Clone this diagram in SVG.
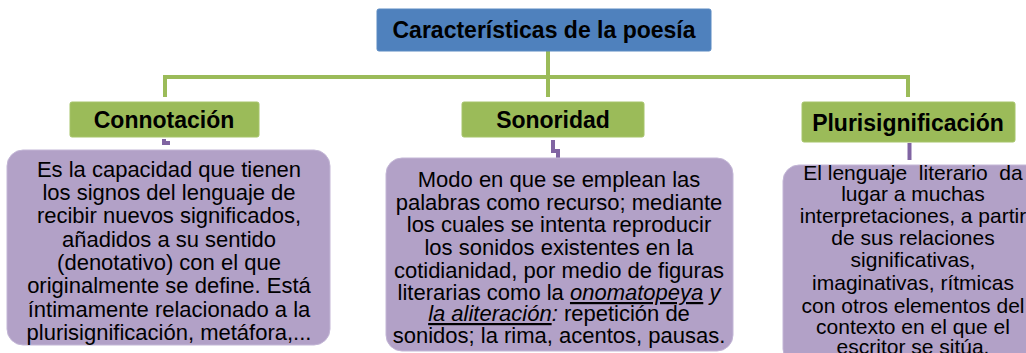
<svg xmlns="http://www.w3.org/2000/svg" width="1026" height="353" viewBox="0 0 1026 353">
<style>
.t{font-family:"Liberation Sans",Arial,sans-serif;fill:#000;text-anchor:middle}
.h{font-size:23px;font-weight:bold}
.b{font-size:22px}
.c{font-size:21px}
.g{fill:#9bbb59;stroke:#a6c46a;stroke-width:1}
.p{fill:#b2a1c7;stroke:#c3b6d6;stroke-width:1}
.gl{stroke:#9bbb59;stroke-width:4;fill:none}
.pl{stroke:#8064a2;stroke-width:4;fill:none}
</style>
<rect width="1026" height="353" fill="#fff"/>
<g id="connectors">
<path class="gl" d="M548 51 V97 M165 97 V77 H908 V97"/>
<path class="pl" d="M164 139 V143 H170"/>
<path class="pl" d="M553 140 V151 H558 V159"/>
<path class="pl" d="M909.5 143 V160"/>
</g>
<g id="root">
<rect x="377" y="9" width="334" height="42" rx="2" fill="#4f81bd" stroke="#5b8ac2"/>
<text class="t h" x="544" y="38">Características de la poesía</text>
</g>
<g id="connotacion">
<rect class="g" x="70" y="102" width="189" height="35" rx="2"/>
<text class="t h" x="164" y="128">Connotación</text>
</g>
<g id="sonoridad">
<rect class="g" x="462" y="102" width="182" height="35" rx="2"/>
<text class="t h" x="553" y="128">Sonoridad</text>
</g>
<g id="plurisignificacion">
<rect class="g" x="802" y="102" width="213" height="40" rx="2"/>
<text class="t h" x="908" y="131" font-size="24">Plurisignificación</text>
</g>
<g id="connotacion-desc">
<rect class="p" x="7" y="150" width="323" height="195" rx="16"/>
<text class="t b"><tspan x="169" y="177">Es la capacidad que tienen</tspan><tspan x="169" y="200">los signos del lenguaje de</tspan><tspan x="169" y="223">recibir nuevos significados,</tspan><tspan x="169" y="247">añadidos a su sentido</tspan><tspan x="169" y="270">(denotativo) con el que</tspan><tspan x="169" y="293">originalmente se define. Está</tspan><tspan x="169" y="317">íntimamente relacionado a la</tspan><tspan x="169" y="340">plurisignificación, metáfora,...</tspan></text>
</g>
<g id="sonoridad-desc">
<rect class="p" x="386" y="158" width="347" height="193" rx="16"/>
<text class="t b"><tspan x="559" y="187">Modo en que se emplean las</tspan><tspan x="559" y="210">palabras como recurso; mediante</tspan><tspan x="559" y="232">los cuales se intenta reproducir</tspan><tspan x="559" y="255">los sonidos existentes en la</tspan><tspan x="559" y="278">cotidianidad, por medio de figuras</tspan><tspan x="559" y="300">literarias como la <tspan font-style="italic" text-decoration="underline">onomatopeya</tspan> <tspan font-style="italic">y</tspan></tspan><tspan x="559" y="321"><tspan font-style="italic" text-decoration="underline">la aliteración</tspan><tspan font-style="italic">:</tspan> repetición de</tspan><tspan x="559" y="343">sonidos; la rima, acentos, pausas.</tspan></text>
</g>
<g id="plurisignificacion-desc">
<rect class="p" x="783" y="165" width="260" height="200" rx="16"/>
<text class="t c" xml:space="preserve"><tspan x="913" y="180">El lenguaje  literario  da</tspan><tspan x="913" y="201">lugar a muchas</tspan><tspan x="913" y="223">interpretaciones, a partir</tspan><tspan x="913" y="245">de sus relaciones</tspan><tspan x="913" y="267">significativas,</tspan><tspan x="913" y="290">imaginativas, rítmicas</tspan><tspan x="913" y="313">con otros elementos del</tspan><tspan x="913" y="334">contexto en el que el</tspan><tspan x="913" y="354">escritor se sitúa.</tspan></text>
</g>
</svg>
